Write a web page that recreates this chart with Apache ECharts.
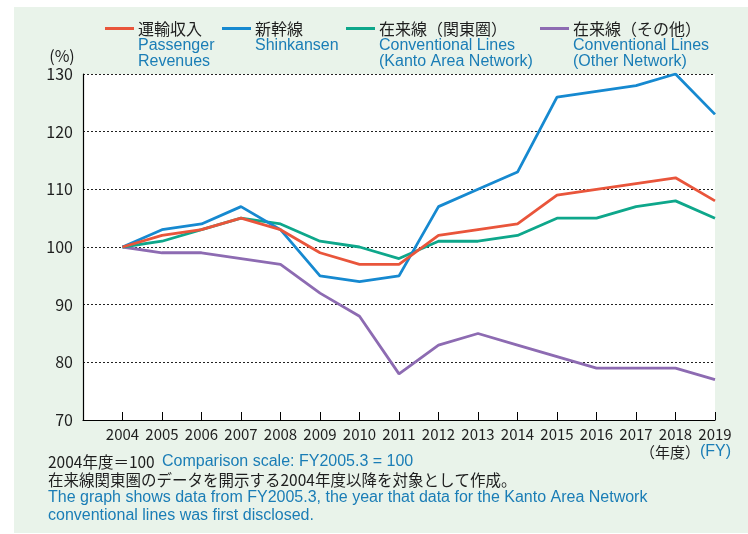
<!DOCTYPE html>
<html>
<head>
<meta charset="utf-8">
<script src="https://cdn.jsdelivr.net/npm/echarts@6/dist/echarts.min.js"></script>
<style>
  html, body { margin: 0; padding: 0; background: #ffffff; }
  #chart { width: 748px; height: 534px; }
</style>
</head>
<body>
<div id="chart"></div>
<script>
// Fiscal years on the horizontal axis
const years = [2004, 2005, 2006, 2007, 2008, 2009, 2010, 2011, 2012, 2013, 2014, 2015, 2016, 2017, 2018, 2019];

// Index values (FY2004 = 100)
const passengerRevenues = [100, 102, 103, 105, 103, 99, 97, 97, 102, 103, 104, 109, 110, 111, 112, 108];
const shinkansen        = [100, 103, 104, 107, 103, 95, 94, 95, 107, 110, 113, 126, 127, 128, 130, 123];
const kantoLines        = [100, 101, 103, 105, 104, 101, 100, 98, 101, 101, 102, 105, 105, 107, 108, 105];
const otherLines        = [100, 99, 99, 98, 97, 92, 88, 78, 83, 85, 83, 81, 79, 79, 79, 77];

// Y axis ticks
const yTicks = [70, 80, 90, 100, 110, 120, 130];

// Legend entries: Japanese name, English lines
const legendJa = ['運輸収入', '新幹線', '在来線（関東圏）', '在来線（その他）'];
const legendEn = [
  ['Passenger', 'Revenues'],
  ['Shinkansen'],
  ['Conventional Lines', '(Kanto Area Network)'],
  ['Conventional Lines', '(Other Network)']
];

const colors = ['#e9553b', '#1689d0', '#0ea78b', '#8d6bb2'];
const JP = '"Noto Sans CJK JP", sans-serif';
const EN = '"Liberation Sans", Arial, sans-serif';
const INK = '#1e1e1e';
const BLUE = '#1a7db6';

const pairs = arr => years.map((y, i) => [y, arr[i]]);
const seriesData = [passengerRevenues, shinkansen, kantoLines, otherLines];

const chart = echarts.init(document.getElementById('chart'), null, { renderer: 'canvas' });

// Plain text helper for graphic elements
const txt = (x, y, text, font, fill, align) => ({
  type: 'text', x, y,
  style: { text, font, fill, textAlign: align || 'left', textVerticalAlign: 'middle' }
});

// Legend built from graphic elements so each entry can carry two languages
const legendX = [105, 222, 346, 540];
const legendGraphics = [];
legendJa.forEach((name, i) => {
  const x0 = legendX[i];
  legendGraphics.push({
    type: 'line',
    shape: { x1: x0, y1: 28.5, x2: x0 + 29, y2: 28.5 },
    style: { stroke: colors[i], lineWidth: 3 }
  });
  legendGraphics.push(txt(x0 + 33, 29, name, '16px ' + JP, INK));
  legendEn[i].forEach((line, k) => {
    legendGraphics.push(txt(x0 + 33, 45.5 + k * 16, line, '16px ' + EN, BLUE));
  });
});

const option = {
  animation: false,
  grid: {
    left: 83, right: 33, top: 74, bottom: 114,
    show: true, backgroundColor: '#ffffff', borderWidth: 0
  },
  xAxis: {
    type: 'value',
    min: 2003, max: 2019, interval: 1,
    axisLine: { show: true, lineStyle: { color: '#000', width: 1.2 } },
    axisTick: { show: true, inside: true, length: 8, lineStyle: { color: '#000', width: 1 } },
    splitLine: { show: false },
    axisLabel: {
      margin: 7,
      fontFamily: JP, fontSize: 15, color: INK,
      formatter: v => (v >= years[0] ? String(v) : '')
    }
  },
  yAxis: {
    type: 'value',
    min: yTicks[0], max: yTicks[yTicks.length - 1], interval: 10,
    axisLine: { show: true, lineStyle: { color: '#000', width: 1.2 } },
    axisTick: { show: false },
    splitLine: { show: true, lineStyle: { color: '#222', type: [2, 2], width: 1 } },
    axisLabel: { margin: 10, fontFamily: JP, fontSize: 16, color: INK }
  },
  series: seriesData.map((arr, i) => ({
    type: 'line',
    data: pairs(arr),
    symbol: 'none',
    lineStyle: { color: colors[i], width: 2.8 },
    z: 10 - i
  })),
  graphic: [
    {
      type: 'rect', z: -100, silent: true,
      shape: { x: 14, y: 7, width: 734, height: 526 },
      style: { fill: '#e9f3ea' }
    },
    txt(62, 56, '(%)', '16px ' + JP, INK, 'center'),
    txt(700, 452, '（年度）', '15px ' + JP, INK, 'right'),
    txt(700, 452, '(FY)', '16px ' + EN, BLUE),
    txt(48, 462, '2004年度＝100', '15.5px ' + JP, INK),
    txt(162, 462, 'Comparison scale: FY2005.3 = 100', '16px ' + EN, BLUE),
    txt(48, 480, '在来線関東圏のデータを開示する2004年度以降を対象として作成。', '15.5px ' + JP, INK),
    txt(48, 498, 'The graph shows data from FY2005.3, the year that data for the Kanto Area Network', '16px ' + EN, BLUE),
    txt(48, 516, 'conventional lines was first disclosed.', '16px ' + EN, BLUE)
  ].concat(legendGraphics)
};

chart.setOption(option);
</script>
</body>
</html>
